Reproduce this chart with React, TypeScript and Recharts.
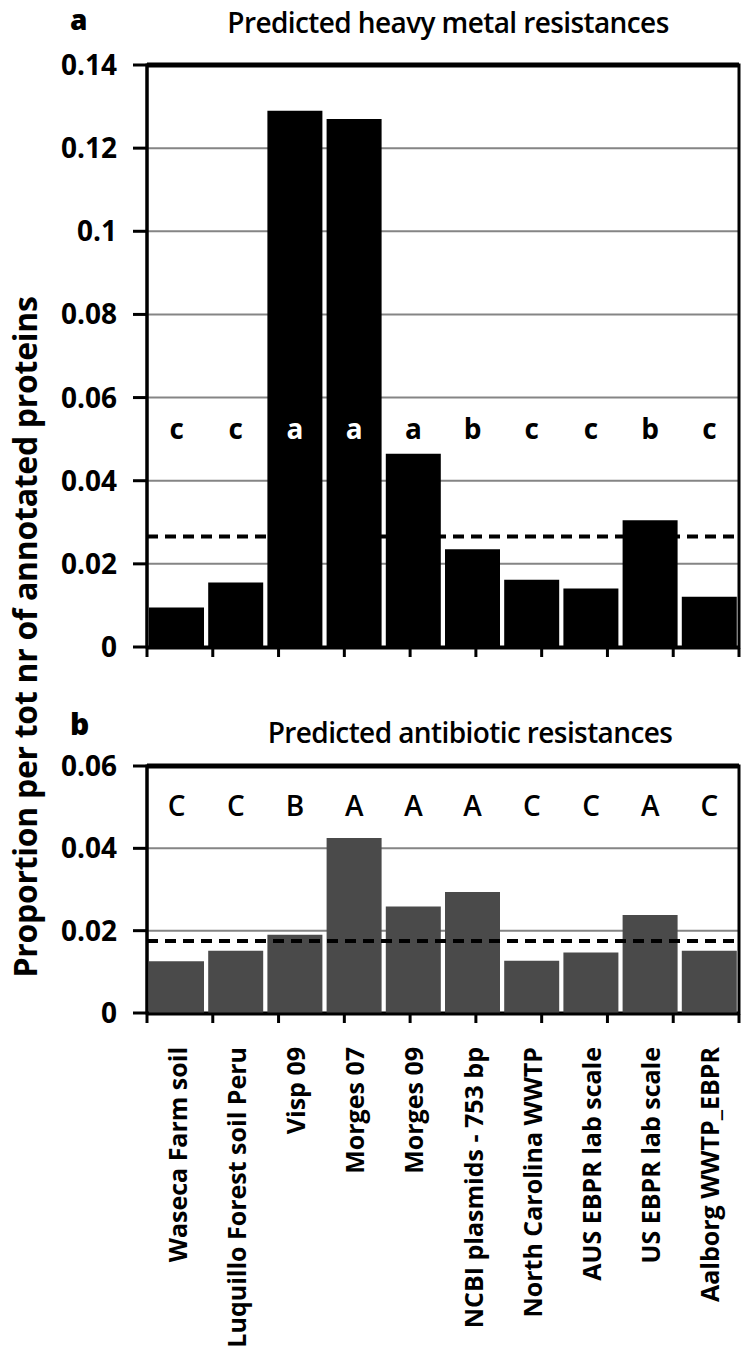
import React from 'react';
import { BarChart, Bar, XAxis, YAxis, CartesianGrid, ReferenceLine, ReferenceArea, ReferenceDot } from 'recharts';

const categories = [
  'Waseca Farm soil',
  'Luquillo Forest soil Peru',
  'Visp 09',
  'Morges 07',
  'Morges 09',
  'NCBI plasmids - 753 bp',
  'North Carolina WWTP',
  'AUS EBPR lab scale',
  'US EBPR lab scale',
  'Aalborg WWTP_EBPR',
];
const heavyMetal = [0.0095, 0.0155, 0.129, 0.127, 0.0465, 0.0235, 0.0162, 0.0141, 0.0305, 0.0121];
const antibiotic = [0.0126, 0.0151, 0.019, 0.0425, 0.0259, 0.0294, 0.0127, 0.0147, 0.0238, 0.0151];
const heavyMetalLetters = ['c', 'c', 'a', 'a', 'a', 'b', 'c', 'c', 'b', 'c'];
const antibioticLetters = ['C', 'C', 'B', 'A', 'A', 'A', 'C', 'C', 'A', 'C'];
const heavyMetalTicks = [0, 0.02, 0.04, 0.06, 0.08, 0.1, 0.12, 0.14];
const antibioticTicks = [0, 0.02, 0.04, 0.06];
const heavyMetalMean = 0.0266;
const antibioticMean = 0.0175;
const heavyMetalLetterY = 0.0525;
const antibioticLetterY = 0.0502;
const edgeTicks = [0, 1, 2, 3, 4, 5, 6, 7, 8, 9, 10];

const FONT = '"Open Sans", "Noto Sans", sans-serif';

const dataA = categories.map((name, i) => ({ name, v: heavyMetal[i] }));
const dataB = categories.map((name, i) => ({ name, v: antibiotic[i] }));

const fmt = (v: number) => (v === 0 ? '0' : String(v));

const CatTick = (props: any) => {
  const { x, y, payload } = props;
  const ty = y + 26;
  return (
    <text
      x={x}
      y={ty}
      transform={`rotate(-90, ${x}, ${ty})`}
      textAnchor="end"
      dominantBaseline="central"
      fill="#000"
      fontSize={25}
      fontWeight={700}
      fontFamily={FONT}
    >
      {payload.value}
    </text>
  );
};

const yAxisCommon = {
  width: 147,
  tickSize: 14,
  tickMargin: 16,
  axisLine: { stroke: '#000', strokeWidth: 3 },
  tickLine: { stroke: '#000', strokeWidth: 3 },
  tick: { fill: '#000', fontSize: 28, fontWeight: 700, fontFamily: FONT },
  interval: 0 as const,
  tickFormatter: fmt,
};

const edgeAxisProps = {
  type: 'number' as const,
  domain: [0, 10],
  allowDataOverflow: true,
  ticks: edgeTicks,
  interval: 0 as const,
  height: 1,
  tickSize: 9,
  tickFormatter: () => '',
  axisLine: { stroke: '#000', strokeWidth: 3 },
  tickLine: { stroke: '#000', strokeWidth: 3 },
};

const panelTitle: React.CSSProperties = {
  position: 'absolute',
  transform: 'translate(-50%,-50%)',
  fontSize: 28,
  fontWeight: 600,
  lineHeight: 1,
  whiteSpace: 'nowrap',
  letterSpacing: -0.6,
};

export default function App() {
  return (
    <div style={{ position: 'absolute', left: 0, top: 0, width: 749, height: 1347, background: '#fff', fontFamily: FONT, color: '#000' }}>
      <div style={{ position: 'absolute', left: 70, top: 0, fontSize: 28, fontWeight: 800, lineHeight: 'normal' }}>a</div>
      <div style={{ ...panelTitle, left: 448, top: 22 }}>Predicted heavy metal resistances</div>
      <div style={{ position: 'absolute', left: 70, top: 703, fontSize: 30, fontWeight: 800, lineHeight: 'normal' }}>b</div>
      <div style={{ ...panelTitle, left: 470, top: 732 }}>Predicted antibiotic resistances</div>
      <div
        style={{
          position: 'absolute',
          left: 25,
          top: 637,
          transform: 'translate(-50%,-50%) rotate(-90deg)',
          fontSize: 32,
          fontWeight: 700,
          lineHeight: 1,
          whiteSpace: 'nowrap',
          letterSpacing: -0.3,
        }}
      >
        Proportion per tot nr of annotated proteins
      </div>

      <div style={{ position: 'absolute', left: 0, top: 0 }}>
        <BarChart width={749} height={680} data={dataA} margin={{ top: 65, right: 10, left: 0, bottom: 31 }} barCategoryGap={2}>
          <CartesianGrid vertical={false} stroke="#858585" strokeWidth={2} />
          <XAxis xAxisId="cat" dataKey="name" type="category" height={1} tick={false} tickLine={false} axisLine={false} />
          <XAxis xAxisId="edge" {...edgeAxisProps} />
          <YAxis {...yAxisCommon} domain={[0, 0.14]} ticks={heavyMetalTicks} />
          <ReferenceLine xAxisId="cat" y={heavyMetalMean} stroke="#000" strokeWidth={4} strokeDasharray="11 7" />
          <Bar xAxisId="cat" dataKey="v" fill="#000" isAnimationActive={false} />
          <ReferenceArea xAxisId="cat" x1={categories[0]} x2={categories[categories.length - 1]} y1={0} y2={0.14} fill="none" stroke="#000" strokeWidth={3} ifOverflow="visible" />
          <ReferenceLine xAxisId="cat" y={0.14} stroke="#000" strokeWidth={5} />
          {categories.map((c, i) => (
            <ReferenceDot
              key={c}
              xAxisId="cat"
              x={c}
              y={heavyMetalLetterY}
              r={0}
              fill="none"
              stroke="none"
              label={{
                value: heavyMetalLetters[i],
                position: 'center',
                fill: heavyMetal[i] > heavyMetalLetterY ? '#fff' : '#000',
                fontSize: 28,
                fontWeight: 700,
                fontFamily: FONT,
              }}
            />
          ))}
        </BarChart>
      </div>

      <div style={{ position: 'absolute', left: 0, top: 700 }}>
        <BarChart width={749} height={647} data={dataB} margin={{ top: 66, right: 10, left: 0, bottom: 332 }} barCategoryGap={2}>
          <CartesianGrid vertical={false} stroke="#858585" strokeWidth={2} />
          <XAxis xAxisId="cat" dataKey="name" type="category" height={1} interval={0} tickLine={false} axisLine={false} tick={<CatTick />} />
          <XAxis xAxisId="edge" {...edgeAxisProps} />
          <YAxis {...yAxisCommon} domain={[0, 0.06]} ticks={antibioticTicks} />
          <Bar xAxisId="cat" dataKey="v" fill="#4a4a4a" isAnimationActive={false} />
          <ReferenceLine xAxisId="cat" y={antibioticMean} stroke="#000" strokeWidth={4} strokeDasharray="11 7" />
          <ReferenceArea xAxisId="cat" x1={categories[0]} x2={categories[categories.length - 1]} y1={0} y2={0.06} fill="none" stroke="#000" strokeWidth={3} ifOverflow="visible" />
          <ReferenceLine xAxisId="cat" y={0.06} stroke="#000" strokeWidth={5} />
          {categories.map((c, i) => (
            <ReferenceDot
              key={c}
              xAxisId="cat"
              x={c}
              y={antibioticLetterY}
              r={0}
              fill="none"
              stroke="none"
              label={{
                value: antibioticLetters[i],
                position: 'center',
                fill: '#000',
                fontSize: 28,
                fontWeight: 600,
                fontFamily: FONT,
              }}
            />
          ))}
        </BarChart>
      </div>
    </div>
  );
}
